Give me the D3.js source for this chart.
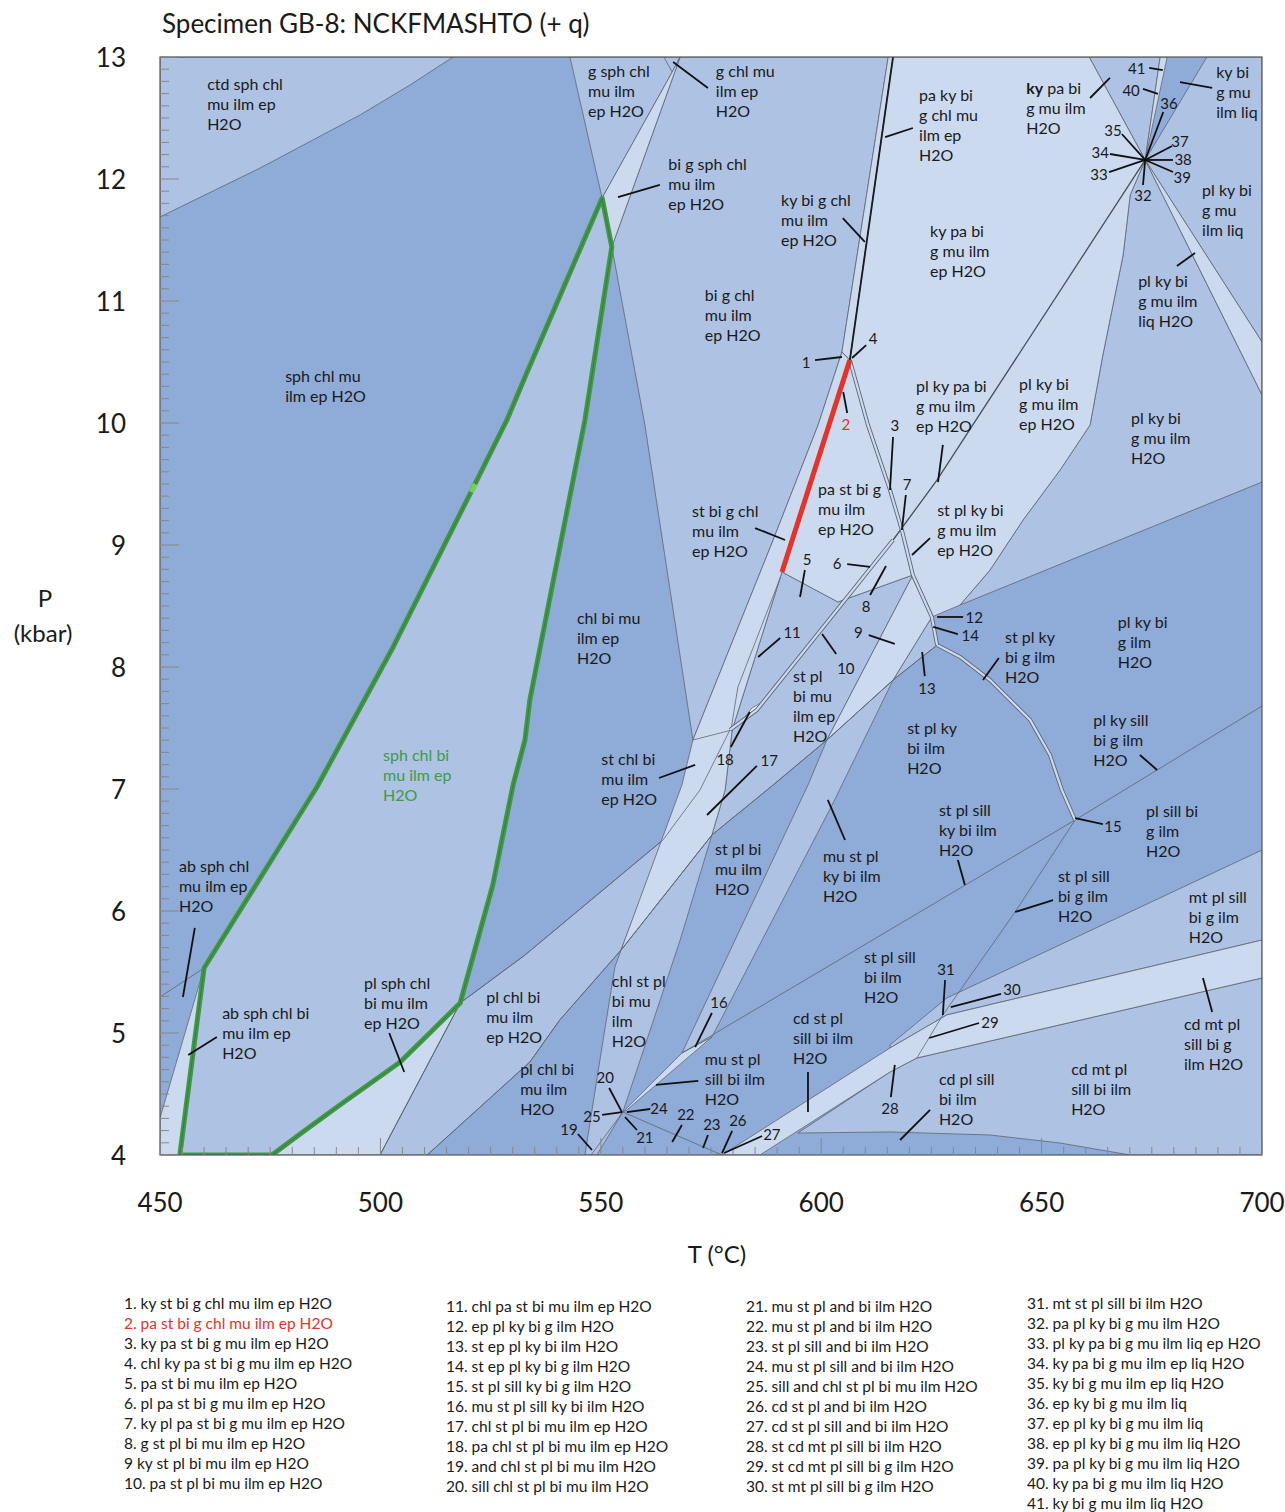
<!DOCTYPE html>
<html><head><meta charset="utf-8">
<script src="https://cdn.jsdelivr.net/npm/d3@7"></script>
<style>
body{margin:0;background:#fff}
text{font-family:Lato,"Noto Sans",sans-serif}
</style></head>
<body><svg id="chart" width="1285" height="1512"></svg>
<script>
// Axes: temperature (°C) and pressure (kbar)
const tDomain = [450, 700];
const pDomain = [4, 13];
const tTicks = [450, 500, 550, 600, 650, 700];
const pTicks = [4, 5, 6, 7, 8, 9, 10, 11, 12, 13];

// Field outlines as [T, P] vertices
const ctdField = [[450,13],[516.5,13],[506.7,12.77],[495.4,12.525],[472.7,12.09],[450,11.689]];
const sphChlBiField = [[454.5,4],[460,5.533],[485.6,7.016],[502.9,8.164],[521,9.467],[528.7,10.025],[533,10.393],[550.3,11.844],[552.5,11.443],[546.4,10.025],[533.9,7.73],[532.8,7.402],[530.1,7.033],[525.5,6.213],[518.1,5.246],[504.5,4.762],[490.8,4.41],[482.4,4.189],[475.4,4]];
const abBiField = [[460,5.533],[450,4.303],[450,4],[454.5,4]];
const plSphField = [[518.1,5.246],[504.5,4.762],[490.8,4.41],[482.4,4.189],[475.4,4],[499.9,4]];
const plChlEpField = [[499.9,4],[518.1,5.246],[532.8,5.639],[564.1,6.582],[554.6,5.68],[540.7,5.107],[533.9,4.762],[510.6,4]];
const gSphField = [[543,13],[568,13],[566.2,12.877],[550.3,11.844]];
const biGSphField = [[550.3,11.844],[566.2,12.877],[568,13],[552.5,11.443]];
const biGChlField = [[568,13],[615.2,13],[604.7,10.582],[599.3,9.984],[589.1,9.041],[570.9,7.402],[560,9.984],[552.5,11.443]];
const kyBiGChlField = [[615.2,13],[616.3,13],[606.5,10.516],[604.7,10.582]];
const paKyField = [[616.3,13],[660.8,13],[673.5,12.156],[670.1,11.869],[668.5,11.377],[663.9,10.557],[661,9.984],[654.2,9.615],[645.8,9.205],[638.3,8.795],[631.5,8.508],[625.1,8.41],[620.8,8.754],[603.8,8.533],[591.1,8.779],[606.5,10.516]];
const kyPaH2OField = [[660.8,13],[676.9,13],[673.5,12.156]];
const narrowLiqField = [[676.9,13],[678.5,13],[673.5,12.156]];
const liqField = [[687.5,13],[700,13],[700,10.664],[673.5,12.156]];
const liqH2OField = [[673.5,12.156],[700,10.664],[700,10.23]];
const plKyMuField = [[673.5,12.156],[700,10.23],[700,9.516],[631.5,8.508],[638.3,8.795],[645.8,9.205],[654.2,9.615],[661,9.984],[663.9,10.557],[668.5,11.377],[670.1,11.869]];
const stBand = [[604.7,10.582],[606.5,10.516],[591.1,8.779],[579.8,7.484],[578.2,6.992],[575.2,6.623],[554.6,5.68],[568.4,7.033],[570.9,7.402],[589.1,9.041],[599.3,9.984]];
const chlStPlBand = [[554.6,5.68],[575.2,6.623],[568,5.762],[555,4.352],[549.1,4],[546.4,4],[549.8,4.779],[553.2,5.541]];
const stPlBiMuEpField = [[591.1,8.779],[603.8,8.533],[620.8,8.754],[601.3,7.402],[589.1,7.033],[575.2,6.623],[578.2,6.992],[579.8,7.484]];
const kyStEpField = [[620.8,8.754],[625.1,8.41],[616.3,7.893],[601.3,7.402]];
const stEpKyField = [[625.1,8.41],[626.3,8.18],[616.3,7.893]];
const muKyBand = [[601.3,7.402],[616.3,7.893],[602.7,6.885],[575.2,4.967],[568.4,4.836],[597,7.033]];
const muSillBand = [[568.4,4.836],[575.2,4.967],[555.9,4.369],[555,4.352]];
const mtField = [[700,6.5],[700,5.762],[628.5,5.148],[615.6,4.877],[615.6,4.902],[628.5,5.287]];
const cdBand = [[700,5.762],[628.5,5.148],[615.6,4.877],[577.5,4],[586.1,4],[615.6,4.68],[621.7,4.795],[700,5.451]];
const cdMtField = [[594.7,4.18],[615.6,4.68],[621.7,4.795],[700,5.451],[700,4],[670.1,4],[654.2,4.098],[638.3,4.164],[615.6,4.189]];
const paChlPlField = [[582.9,7.598],[584.3,7.664],[586.3,7.705],[585.2,7.631]];

// Single reaction lines
const abLine = [[450,5.295],[460,5.533]];
const gChlTinyLine = [[566.2,12.877],[564.3,13]];
const kySillLine = [[700,7.68],[657.6,6.746],[568.4,4.836]];
const gInLine = [[657.6,6.746],[644,5.992],[627.6,5.148],[621.7,4.795]];
const node14Line = [[604.7,10.582],[606.5,10.516]];
const plInLine = [[518.1,5.246],[532.8,5.639],[564.1,6.582],[572.5,6.992],[579.3,7.484]];
const epOutLine = [[510.6,4],[533.9,4.762],[540.7,5.107],[554.6,5.68],[575.2,6.623],[589.1,7.033],[601.3,7.402],[616.3,7.893],[626.3,8.18]];
const plSphLine = [[499.9,4],[518.1,5.246]];
const line22 = [[555,4.352],[577.5,4]];
const andLine = [[555,4.352],[547.8,4]];
const gOutBandLine = [[570.9,7.402],[579.8,7.484]];
const paInLine = [[590.7,8.73],[581.1,7.836],[579.6,7.5]];
const paUpperLine = [[673.5,12.156],[634.4,9.984],[626.3,9.533],[616.3,9.041]];
// Narrow two-sided bands
const gInCurve = [[626.3,8.18],[631.5,8.082],[638.3,7.893],[647.4,7.566],[651.9,7.279],[654.6,6.992],[657.6,6.746]];
const paOutLine = [[616.3,9.041],[585.4,7.648],[579.3,7.484]];
const stOutLine = [[606.5,10.516],[610.6,9.984],[615.6,9.451],[618.3,9.123],[620.8,8.754],[625.1,8.41],[626.3,8.18]];
// Heavy lines
const kyBlackLine = [[616.3,13],[606.5,10.516]];
const redLine = [[606.5,10.516],[591.1,8.779]];
const limeMark = [[520.6,9.434],[521.5,9.5]];

const tone = {dark:"#8fabd7", mid:"#aec2e3", light:"#ccdaf0", white:"#eef2f8"};
const fields = [
  [ctdField,"mid"],[sphChlBiField,"mid"],[plChlEpField,"mid"],[gSphField,"mid"],[biGChlField,"mid"],
  [kyPaH2OField,"mid"],[liqField,"mid"],[plKyMuField,"mid"],[chlStPlBand,"mid"],[stPlBiMuEpField,"mid"],
  [stEpKyField,"mid"],[muKyBand,"mid"],[mtField,"mid"],[cdMtField,"mid"],
  [abBiField,"light"],[plSphField,"light"],[biGSphField,"light"],[kyBiGChlField,"light"],[paKyField,"light"],
  [narrowLiqField,"light"],[liqH2OField,"light"],[stBand,"light"],[kyStEpField,"light"],[muSillBand,"light"],[cdBand,"light"],
  [paChlPlField,"white"]
];
const thinLines = [abLine,gChlTinyLine,kySillLine,gInLine,node14Line,plInLine,epOutLine,plSphLine,line22,andLine,gOutBandLine,paInLine];
const doubleLines = [gInCurve,paOutLine,stOutLine];

// Field labels: text lines, left x (T) and first-line centre (P), optional leader
const fieldLabels = [
 {l:["ctd sph chl","mu ilm ep","H2O"],t:460.7,p:12.78},
 {l:["sph chl mu","ilm ep H2O"],t:478.4,p:10.393},
 {l:["g sph chl","mu ilm","ep H2O"],t:547.1,p:12.893},
 {l:["g chl mu","ilm ep","H2O"],t:576.1,p:12.893,k:[[574.3,12.746],[566.4,12.959]]},
 {l:["bi g sph chl","mu ilm","ep H2O"],t:565.3,p:12.131,k:[[563.4,11.951],[553.9,11.852]]},
 {l:["ky bi g chl","mu ilm","ep H2O"],t:590.9,p:11.836,k:[[604.9,11.68],[609.9,11.484]]},
 {l:["bi g chl","mu ilm","ep H2O"],t:573.6,p:11.057},
 {l:["pa ky bi","g chl mu","ilm ep","H2O"],t:622.2,p:12.689,k:[[620.8,12.418],[614.5,12.344]]},
 {l:["ky| pa bi","g mu ilm","H2O"],t:646.5,p:12.754,k:[[661,12.664],[665.5,12.828]]},
 {l:["ky bi","g mu","ilm liq"],t:689.6,p:12.885,k:[[688.7,12.746],[681.4,12.795]]},
 {l:["pl ky bi","g mu","ilm liq"],t:686.4,p:11.91},
 {l:["pl ky bi","g mu ilm","liq H2O"],t:671.9,p:11.164,k:[[680.7,11.287],[684.8,11.393]]},
 {l:["ky pa bi","g mu ilm","ep H2O"],t:624.7,p:11.574},
 {l:["pl ky pa bi","g mu ilm","ep H2O"],t:621.5,p:10.311,k:[[627.6,9.82],[626.5,9.516]]},
 {l:["pl ky bi","g mu ilm","ep H2O"],t:644.9,p:10.32},
 {l:["pl ky bi","g mu ilm","H2O"],t:670.3,p:10.041},
 {l:["st bi g chl","mu ilm","ep H2O"],t:570.7,p:9.279,k:[[585,9.139],[591.8,9.041]]},
 {l:["pa st bi g","mu ilm","ep H2O"],t:599.3,p:9.467},
 {l:["st pl ky bi","g mu ilm","ep H2O"],t:626.3,p:9.287,k:[[624.7,9.057],[620.6,8.918]]},
 {l:["chl bi mu","ilm ep","H2O"],t:544.6,p:8.402},
 {l:["st pl","bi mu","ilm ep","H2O"],t:593.6,p:7.934},
 {l:["st pl ky","bi g ilm","H2O"],t:641.7,p:8.254,k:[[640.3,8.074],[636.7,7.893]]},
 {l:["pl ky bi","g ilm","H2O"],t:667.3,p:8.377},
 {l:["st pl ky","bi ilm","H2O"],t:619.5,p:7.508},
 {l:["pl ky sill","bi g ilm","H2O"],t:661.7,p:7.566,k:[[672.3,7.279],[676.2,7.156]]},
 {l:["sph chl bi","mu ilm ep","H2O"],t:500.6,p:7.279,c:"#3c9b47"},
 {l:["st chl bi","mu ilm","ep H2O"],t:550.1,p:7.246,k:[[563.2,7.09],[571.4,7.197]]},
 {l:["st pl sill","ky bi ilm","H2O"],t:626.7,p:6.836,k:[[631,6.418],[632.6,6.213]]},
 {l:["pl sill bi","g ilm","H2O"],t:673.7,p:6.82},
 {l:["mu st pl","ky bi ilm","H2O"],t:600.4,p:6.459,k:[[605.4,6.582],[601.5,6.91]]},
 {l:["st pl bi","mu ilm","H2O"],t:575.9,p:6.516},
 {l:["ab sph chl","mu ilm ep","H2O"],t:454.3,p:6.369,k:[[457.9,5.861],[455.2,5.295]]},
 {l:["st pl sill","bi g ilm","H2O"],t:653.7,p:6.287,k:[[652.6,6.09],[644,5.992]]},
 {l:["mt pl sill","bi g ilm","H2O"],t:683.4,p:6.115},
 {l:["st pl sill","bi ilm","H2O"],t:609.7,p:5.631},
 {l:["ab sph chl bi","mu ilm ep","H2O"],t:464.1,p:5.164,k:[[462.9,4.967],[456.4,4.82]]},
 {l:["pl sph chl","bi mu ilm","ep H2O"],t:496.3,p:5.418,k:[[502,5],[505.4,4.68]]},
 {l:["pl chl bi","mu ilm","ep H2O"],t:524,p:5.303},
 {l:["chl st pl","bi mu","ilm","H2O"],t:552.5,p:5.434},
 {l:["cd st pl","sill bi ilm","H2O"],t:593.6,p:5.123,k:[[597,4.68],[597,4.352]]},
 {l:["cd mt pl","sill bi g","ilm H2O"],t:682.3,p:5.074,k:[[688.7,5.172],[686.6,5.451]]},
 {l:["pl chl bi","mu ilm","H2O"],t:531.7,p:4.713},
 {l:["mu st pl","sill bi ilm","H2O"],t:573.6,p:4.787,k:[[572.1,4.607],[562.5,4.574]]},
 {l:["cd mt pl","sill bi ilm","H2O"],t:656.7,p:4.713},
 {l:["cd pl sill","bi ilm","H2O"],t:626.7,p:4.631,k:[[624.7,4.369],[617.9,4.123]]}
];

// Numbered small fields: label centre and leader
const numLabels = [
 [1,596.6,10.5,[[598.6,10.516],[604.7,10.541]]],
 [2,605.6,9.992,[[605.9,10.082],[605,10.254]]],
 [3,616.7,9.984,[[616.3,9.885],[615.6,9.451]]],
 [4,611.8,10.697,[[610.2,10.639],[607,10.533]]],
 [5,596.8,8.885,[[596.3,8.795],[595.2,8.574]]],
 [6,603.6,8.852,[[605.9,8.844],[611.1,8.82]]],
 [7,619.5,9.5,[[619.2,9.41],[618.3,9.123]]],
 [8,610.2,8.5,[[611.1,8.59],[614.7,8.828]]],
 [9,608.4,8.287,[[610.8,8.262],[616.7,8.189]]],
 [10,605.6,7.992,[[603.4,8.107],[600.2,8.27]]],
 [11,593.4,8.287,[[590.7,8.238],[585.7,8.082]]],
 [12,634.7,8.41,[[632.2,8.41],[626.3,8.41]]],
 [13,624,7.828,[[623.5,7.926],[622.9,8.123]]],
 [14,633.8,8.262,[[631,8.27],[625.4,8.328]]],
 [15,666.2,6.697,[[663.9,6.713],[657.6,6.762]]],
 [16,576.8,5.254,[[575.2,5.164],[571.4,4.885]]],
 [17,588.2,7.238,[[585.4,7.189],[574.1,6.787]]],
 [18,578.2,7.246,[[579.5,7.344],[583.8,7.631]]],
 [19,542.8,4.213,[[544.8,4.172],[548,4.041]]],
 [20,551,4.639,[[551.9,4.549],[554.8,4.352]]],
 [21,560,4.148,[[558.2,4.205],[555.5,4.311]]],
 [22,569.3,4.336,[[568.4,4.246],[566.2,4.107]]],
 [23,575.2,4.254,[[574.3,4.164],[573.2,4.057]]],
 [24,563.2,4.385,[[561.2,4.377],[555.9,4.352]]],
 [25,548,4.32,[[550.3,4.328],[554.8,4.352]]],
 [26,581.1,4.287,[[579.8,4.197],[577.5,4.016]]],
 [27,588.8,4.172,[[586.6,4.156],[578,4.016]]],
 [28,615.6,4.385,[[615.8,4.475],[616.7,4.738]]],
 [29,638.3,5.09,[[635.8,5.082],[624.5,4.959]]],
 [30,643.3,5.361,[[640.8,5.32],[629.4,5.213]]],
 [31,628.3,5.525,[[628.1,5.434],[627.6,5.148]]],
 [32,673,11.869,[[673,11.951],[673.5,12.156]]],
 [33,663,12.041,[[665.3,12.057],[673.5,12.156]]],
 [34,663.3,12.221,[[665.5,12.205],[673.5,12.156]]],
 [35,666.2,12.402,[[668.2,12.369],[673.5,12.156]]],
 [36,678.9,12.623,[[677.6,12.549],[673.5,12.156]]],
 [37,681.4,12.311,[[679.6,12.27],[673.5,12.156]]],
 [38,682.1,12.164,[[679.8,12.156],[673.5,12.156]]],
 [39,681.9,12.016,[[679.8,12.057],[673.5,12.156]]],
 [40,670.3,12.73,[[673,12.738],[676.4,12.697]]],
 [41,671.6,12.91,[[674.4,12.91],[677.5,12.893]]]
];

const legendCols = [
 ["1. ky st bi g chl mu ilm ep H2O","2. pa st bi g chl mu ilm ep H2O","3. ky pa st bi g  mu ilm ep H2O","4. chl ky pa st bi g  mu ilm ep H2O","5. pa st bi mu ilm ep H2O","6. pl pa st bi g mu ilm ep H2O","7. ky pl pa st bi g mu ilm ep H2O","8. g st pl bi mu ilm ep H2O","9 ky st pl bi mu ilm ep H2O","10. pa st pl bi mu ilm ep H2O"],
 ["11. chl pa st bi mu ilm ep H2O","12. ep pl ky bi g ilm H2O","13. st ep pl ky bi ilm H2O","14. st ep pl ky bi g ilm H2O","15. st pl sill ky bi g ilm H2O","16. mu st pl sill ky bi ilm H2O","17. chl st pl bi mu ilm ep H2O","18. pa chl st pl bi mu ilm ep H2O","19. and chl st pl bi mu ilm H2O","20. sill chl st pl bi mu ilm H2O"],
 ["21. mu st pl and bi ilm H2O","22. mu st pl and bi ilm H2O","23. st pl sill and bi ilm H2O","24. mu st pl sill and bi ilm H2O","25. sill and chl st pl bi mu ilm H2O","26. cd st pl and bi ilm H2O","27. cd st pl sill and bi ilm H2O","28. st cd mt pl sill bi ilm H2O","29. st cd mt pl sill bi g ilm H2O","30. st mt pl sill bi g ilm H2O"],
 ["31. mt st pl sill bi ilm H2O","32. pa pl ky bi g mu ilm H2O","33. pl ky pa bi g mu ilm liq ep H2O","34. ky pa bi g mu ilm ep liq H2O","35. ky bi g mu ilm ep liq H2O","36. ep ky bi g mu ilm liq","37. ep pl ky bi g mu ilm liq","38. ep pl ky bi g mu ilm liq H2O","39. pa pl ky bi g mu ilm liq H2O","40. ky pa bi g mu ilm liq H2O","41. ky bi g mu ilm liq H2O"]
];

const ink = "#1a1a1a", red = "#e5332a", lineGrey = "#5f6670";
const svg = d3.select("#chart");
const x = d3.scaleLinear().domain(tDomain).range([160, 1262]);
const y = d3.scaleLinear().domain(pDomain).range([1155, 57]);
const line = d3.line().x(d => x(d[0])).y(d => y(d[1]));

svg.append("defs").append("clipPath").attr("id","plotClip")
  .append("rect").attr("x",x(450)).attr("y",y(13)).attr("width",x(700)-x(450)).attr("height",y(4)-y(13));
const plot = svg.append("g").attr("clip-path","url(#plotClip)");

plot.append("rect").attr("x",x(450)).attr("y",y(13)).attr("width",x(700)-x(450)).attr("height",y(4)-y(13)).attr("fill",tone.dark);

plot.selectAll("path.field").data(fields).join("path").attr("class","field")
  .attr("d", d => line(d[0]) + "Z").attr("fill", d => tone[d[1]])
  .attr("stroke",lineGrey).attr("stroke-width",0.8).attr("stroke-linejoin","round");

plot.selectAll("path.thin").data(thinLines).join("path").attr("class","thin")
  .attr("d", line).attr("fill","none").attr("stroke",lineGrey).attr("stroke-width",0.8);
plot.append("path").attr("d", line(paUpperLine)).attr("fill","none").attr("stroke","#4a4f57").attr("stroke-width",1.3);

doubleLines.forEach(d => {
  plot.append("path").attr("d", line(d)).attr("fill","none").attr("stroke",lineGrey).attr("stroke-width",4);
  plot.append("path").attr("d", line(d)).attr("fill","none").attr("stroke",tone.light).attr("stroke-width",2.2);
});

// Outline of the sph chl bi mu ilm ep H2O field
plot.append("path").attr("d", line(sphChlBiField) + "Z").attr("fill","none")
  .attr("stroke","#3f9a45").attr("stroke-width",5).attr("stroke-linejoin","round");
plot.append("path").attr("d", line(sphChlBiField) + "Z").attr("fill","none")
  .attr("stroke","#3a4a3a").attr("stroke-width",0.6).attr("stroke-opacity",0.7);
plot.append("path").attr("d", line(limeMark)).attr("stroke","#74d24f").attr("stroke-width",5).attr("fill","none");

plot.append("path").attr("d", line(kyBlackLine)).attr("stroke","#1a1a1a").attr("stroke-width",1.8).attr("fill","none");
plot.append("path").attr("d", line(redLine)).attr("stroke",red).attr("stroke-width",5).attr("fill","none");

// Frame and inner ticks
const frame = svg.append("g");
frame.append("rect").attr("x",x(450)).attr("y",y(13)).attr("width",x(700)-x(450)).attr("height",y(4)-y(13))
  .attr("fill","none").attr("stroke","#555").attr("stroke-width",1.2);
const pMinor = d3.range(40, 131).map(v => v / 10);
frame.selectAll("line.py").data(pMinor).join("line").attr("class","py")
  .attr("x1",x(450)).attr("x2",d => x(450) + (Math.abs(d - Math.round(d)) < 1e-6 ? 19 : 9))
  .attr("y1",d => y(d)).attr("y2",d => y(d)).attr("stroke","#888").attr("stroke-width",1);
const tMinor = d3.range(450, 701, 5);
frame.selectAll("line.tx").data(tMinor).join("line").attr("class","tx")
  .attr("x1",d => x(d)).attr("x2",d => x(d)).attr("y1",y(4))
  .attr("y2",d => y(4) - (d % 50 === 0 ? 17 : 8)).attr("stroke","#888").attr("stroke-width",1);

svg.selectAll("text.pt").data(pTicks).join("text").attr("class","pt")
  .attr("x",126).attr("y",d => y(d)).attr("text-anchor","end").attr("dominant-baseline","central")
  .attr("font-size",26).attr("fill",ink).text(d => d);
svg.selectAll("text.tt").data(tTicks).join("text").attr("class","tt")
  .attr("x",d => x(d)).attr("y",1202).attr("text-anchor","middle").attr("dominant-baseline","central")
  .attr("font-size",26).attr("fill",ink).text(d => d);

svg.append("text").attr("x",45).attr("y",597).attr("text-anchor","middle").attr("dominant-baseline","central").attr("font-size",24).attr("fill",ink).text("P");
svg.append("text").attr("x",43).attr("y",632).attr("text-anchor","middle").attr("dominant-baseline","central").attr("font-size",24).attr("fill",ink).text("(kbar)");
svg.append("text").attr("x",717).attr("y",1253).attr("text-anchor","middle").attr("dominant-baseline","central").attr("font-size",24).attr("fill",ink).text("T (°C)");
svg.append("text").attr("x",162).attr("y",33).attr("font-size",26).attr("fill",ink).text("Specimen GB-8: NCKFMASHTO (+ q)");

// Labels and leaders
const ann = svg.append("g");
fieldLabels.forEach(f => {
  if (f.k) ann.append("path").attr("d", line(f.k)).attr("stroke","#111").attr("stroke-width",1.8).attr("fill","none");
  const t = ann.append("text").attr("font-size",16).attr("fill", f.c || ink);
  f.l.forEach((s, i) => {
    const ts = t.append("tspan").attr("x", x(f.t)).attr("y", y(f.p) + i * 20).attr("dominant-baseline","central");
    if (s.includes("|")) {
      const [a, b] = s.split("|");
      ts.append("tspan").attr("font-weight","bold").text(a);
      ts.append("tspan").text(b);
    } else ts.text(s);
  });
});
numLabels.forEach(([n, t, p, k]) => {
  ann.append("path").attr("d", line(k)).attr("stroke","#111").attr("stroke-width",1.8).attr("fill","none");
  ann.append("text").attr("x",x(t)).attr("y",y(p)).attr("text-anchor","middle").attr("dominant-baseline","central")
    .attr("font-size",15).attr("fill", n === 2 ? red : ink).text(n);
});

// Legend of numbered fields
const legendX = [124, 446, 746, 1027];
const legendY = [1303, 1306, 1306, 1303];
legendCols.forEach((col, ci) => {
  svg.selectAll("text.lg" + ci).data(col).join("text").attr("class","lg" + ci)
    .attr("x", legendX[ci]).attr("y", (d, i) => legendY[ci] + i * 20).attr("dominant-baseline","central")
    .attr("font-size",15.5).attr("fill", (d, i) => (ci === 0 && i === 1) ? red : ink).text(d => d);
});
</script></body></html>
